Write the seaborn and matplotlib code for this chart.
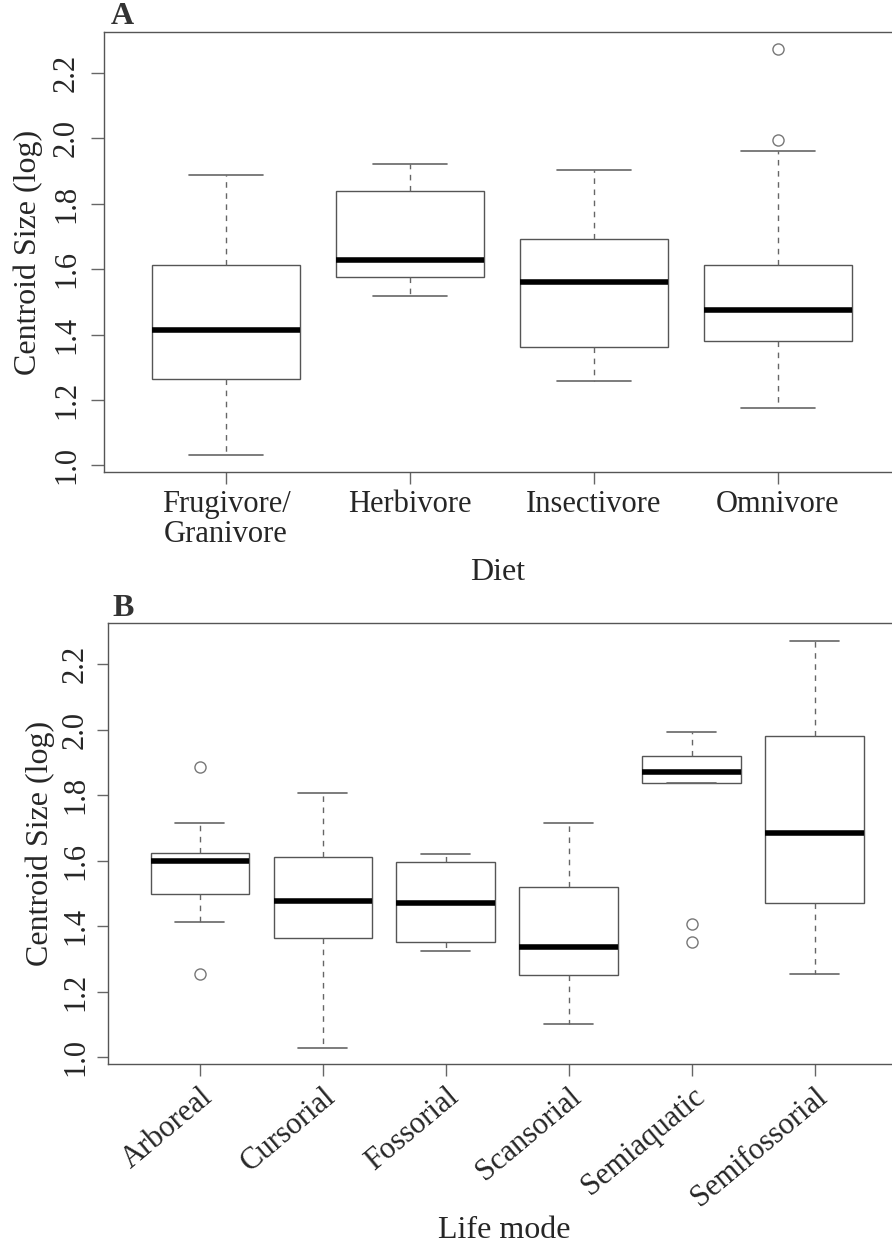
import matplotlib
matplotlib.use("Agg")
import matplotlib.pyplot as plt
import seaborn as sns
import pandas as pd

# ---- Panel A: centroid size by diet (five-number summaries + outliers) ----
diet_groups = ["Frugivore/Granivore", "Herbivore", "Insectivore", "Omnivore"]
diet_labels = ["Frugivore/\nGranivore", "Herbivore", "Insectivore", "Omnivore"]
diet_whislo = [1.032, 1.518, 1.257, 1.175]
diet_q1     = [1.263, 1.575, 1.362, 1.380]
diet_median = [1.413, 1.627, 1.561, 1.476]
diet_q3     = [1.614, 1.840, 1.692, 1.613]
diet_whishi = [1.888, 1.923, 1.904, 1.960]
diet_outliers = [[], [], [], [1.996, 2.273]]

# ---- Panel B: centroid size by life mode ----
mode_groups = ["Arboreal", "Cursorial", "Fossorial", "Scansorial", "Semiaquatic", "Semifossorial"]
mode_whislo = [1.413, 1.028, 1.325, 1.102, 1.837, 1.255]
mode_q1     = [1.499, 1.364, 1.352, 1.250, 1.837, 1.470]
mode_median = [1.599, 1.477, 1.472, 1.338, 1.872, 1.685]
mode_q3     = [1.623, 1.612, 1.597, 1.519, 1.919, 1.980]
mode_whishi = [1.716, 1.808, 1.620, 1.716, 1.994, 2.270]
mode_outliers = [[1.255, 1.885], [], [], [], [1.352, 1.408], []]


def summary_sample(lo, q1, med, q3, hi, outs):
    """Expand a five-number summary into a sample whose boxplot statistics
    (linear-interpolated quartiles, 1.5*IQR whiskers) reproduce it exactly."""
    return [lo] + [q1] * 20 + [med] * 5 + [q3] * 20 + [hi] + list(outs)


def long_frame(groups, lo, q1, med, q3, hi, outs):
    rows = []
    for i, g in enumerate(groups):
        for v in summary_sample(lo[i], q1[i], med[i], q3[i], hi[i], outs[i]):
            rows.append((g, v))
    return pd.DataFrame(rows, columns=["group", "value"])


df_diet = long_frame(diet_groups, diet_whislo, diet_q1, diet_median,
                     diet_q3, diet_whishi, diet_outliers)
df_mode = long_frame(mode_groups, mode_whislo, mode_q1, mode_median,
                     mode_q3, mode_whishi, mode_outliers)

sns.set_theme(style="white")
plt.rcParams["font.family"] = ["Liberation Serif", "DejaVu Serif"]
plt.rcParams["axes.edgecolor"] = "#555555"
plt.rcParams["axes.linewidth"] = 1.0

W, H = 892, 1256
PX = 72 / 100  # points per pixel at 100 dpi
fig = plt.figure(figsize=(W / 100, H / 100), dpi=100)
axA = fig.add_axes([104 / W, 1 - 472 / H, 1 - 104 / W, (472 - 32) / H])
axB = fig.add_axes([108 / W, 1 - 1064 / H, 1 - 108 / W, (1064 - 623) / H])

box_kw = dict(
    width=0.8,
    color="white",
    linecolor="#555555",
    linewidth=1.0,
    whis=1.5,
    whiskerprops=dict(linestyle=(0, (4, 4)), color="#666666", linewidth=1.0),
    capprops=dict(color="#666666", linewidth=1.2),
    medianprops=dict(color="black", linewidth=4),
    flierprops=dict(marker="o", markerfacecolor="none", markeredgecolor="#777777",
                    markersize=8, markeredgewidth=1.0),
)

sns.boxplot(data=df_diet, x="group", y="value", order=diet_groups, ax=axA, **box_kw)
sns.boxplot(data=df_mode, x="group", y="value", order=mode_groups, ax=axB, **box_kw)

fs = 22
for ax, tlen, tpad in ((axA, 13, 10), (axB, 11, 7)):
    ax.set_ylim(0.98, 2.325)
    ax.set_yticks([1.0, 1.2, 1.4, 1.6, 1.8, 2.0, 2.2])
    ax.set_yticklabels(["1.0", "1.2", "1.4", "1.6", "1.8", "2.0", "2.2"],
                       rotation=90, va="center", fontsize=fs)
    ax.set_ylabel("Centroid Size (log)", fontsize=fs + 1)
    ax.yaxis.label.set_verticalalignment("center")
    ax.spines["right"].set_visible(False)
    ax.tick_params(axis="y", which="major", direction="out", length=tlen * PX,
                   width=1, color="#666666", left=True, pad=tpad * PX)
    ax.tick_params(axis="x", which="major", direction="out", length=12 * PX,
                   width=1, color="#666666", bottom=True, pad=6 * PX)
    ax.grid(False)

axA.yaxis.set_label_coords((28 - 104) / 788, 0.5)
axB.yaxis.set_label_coords((40 - 108) / 784, 0.5)

axA.set_xlim(-0.663, 3.62)
axA.set_xticks(range(len(diet_groups)))
axA.set_xticklabels(diet_labels, fontsize=fs, linespacing=1.05)
axA.set_xlabel("Diet", fontsize=fs + 1)
axA.xaxis.label.set_verticalalignment("center")
axA.xaxis.set_label_coords(0.5, (472 - 572) / 440)

axB.set_xlim(-0.746, 5.63)
axB.set_xticks(range(len(mode_groups)))
axB.set_xticklabels(mode_groups, fontsize=fs, rotation=40, ha="right",
                    va="top", rotation_mode="anchor")
axB.set_xlabel("Life mode", fontsize=fs + 1)
axB.xaxis.label.set_verticalalignment("center")
axB.xaxis.set_label_coords(0.505, (1064 - 1230) / 441)

fig.text(111 / W, 1 - 17 / H, "A", fontsize=23, fontweight="bold",
         va="center", ha="left", color="#333333")
fig.text(112 / W, 1 - 608 / H, "B", fontsize=23, fontweight="bold",
         va="center", ha="left", color="#333333")

fig.savefig("out.png", dpi=100, facecolor="white")
